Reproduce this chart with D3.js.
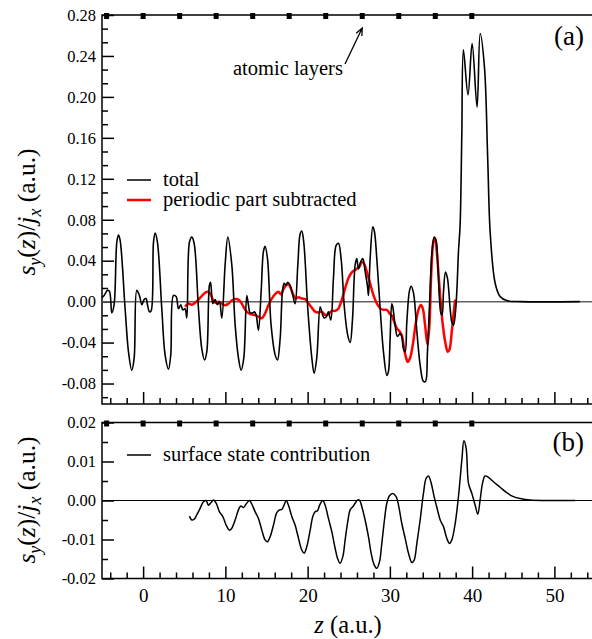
<!DOCTYPE html>
<html>
<head>
<meta charset="utf-8">
<script src="https://cdnjs.cloudflare.com/ajax/libs/d3/7.8.5/d3.min.js"></script>
<style>
body{margin:0;background:#fff}
svg text{font-family:"Liberation Serif","Times New Roman",Times,"DejaVu Serif",serif}
</style>
</head>
<body>
<div id="chart"></div>
<script>
// positions of the atomic layers (a.u.)
var layers = [-4.44, 0, 4.44, 8.88, 13.32, 17.76, 22.2, 26.64, 31.08, 35.52, 39.96];
// tick values
var ticksA = [-0.08, -0.04, 0.00, 0.04, 0.08, 0.12, 0.16, 0.20, 0.24, 0.28];
var ticksB = [-0.02, -0.01, 0.00, 0.01, 0.02];
var ticksX = [0, 10, 20, 30, 40, 50];

// panel (a): total, [z, s_y/j_x]
var total = [[-5.0,0.004],[-4.74,0.006],[-4.34,0.011],[-4.09,0.010],[-3.81,-0.011],[-3.53,-0.003],[-3.2,0.058],[-3.0,0.065],[-2.8,0.060],
  [-2.19,-0.007],[-1.78,-0.049],[-1.38,-0.067],[-1.09,-0.055],[-0.77,0.011],[-0.45,0.006],[-0.16,-0.003],[0.12,0.002],[0.36,0.003],
  [0.53,-0.003],[0.77,-0.010],[0.97,-0.009],[1.26,0.058],[1.46,0.067],[1.74,0.058],[2.27,-0.007],[2.67,-0.052],[3.08,-0.066],
  [3.36,-0.052],[3.69,0.006],[4.01,0.005],[4.3,-0.007],[4.58,-0.003],[4.82,-0.008],[5.1,-0.007],[5.31,-0.016],[5.63,0.058],
  [5.92,0.063],[6.2,0.057],[6.73,-0.007],[7.13,-0.046],[7.46,-0.057],[7.74,-0.049],[8.06,0.016],[8.2,0.019],[8.47,-0.002],
  [8.75,0.002],[9.04,-0.003],[9.28,0.000],[9.57,-0.016],[9.97,0.036],[10.3,0.063],[10.78,0.036],[11.19,-0.023],[11.59,-0.055],
  [11.91,-0.067],[12.24,-0.055],[12.6,0.006],[12.8,-0.003],[13.01,-0.011],[13.29,-0.011],[13.53,-0.010],[13.74,-0.013],[14.02,-0.028],
  [14.35,0.010],[14.63,0.049],[14.83,0.054],[15.12,0.042],[15.56,-0.023],[16.05,-0.052],[16.33,-0.057],[16.66,-0.036],[16.94,0.010],
  [17.14,0.018],[17.34,0.016],[17.59,0.019],[17.87,0.016],[18.2,0.006],[18.48,-0.002],[18.81,0.036],[19.09,0.066],[19.29,0.069],
  [19.53,0.058],[20.02,-0.007],[20.51,-0.055],[20.79,-0.070],[21.11,-0.055],[21.52,-0.005],[21.72,-0.010],[22.0,-0.016],[22.25,-0.015],
  [22.53,-0.010],[22.82,-0.018],[23.14,0.023],[23.47,0.055],[23.75,0.057],[24.07,0.042],[24.48,-0.007],[24.88,-0.033],[25.17,-0.040],
  [25.45,-0.018],[25.78,0.036],[25.98,0.042],[26.18,0.032],[26.46,0.039],[26.71,0.042],[27.0,0.029],[27.28,0.015],[27.4,0.006],
  [27.6,0.042],[27.93,0.073],[28.13,0.068],[28.41,0.042],[28.82,-0.007],[29.22,-0.049],[29.63,-0.072],[29.83,-0.068],[30.03,-0.036],
  [30.23,-0.002],[30.35,-0.005],[30.64,-0.023],[30.92,-0.034],[31.25,-0.031],[31.45,-0.034],[31.65,-0.046],[31.86,-0.049],[32.06,-0.020],
  [32.39,0.011],[32.59,0.015],[32.88,0.008],[33.28,-0.029],[33.68,-0.062],[34.08,-0.078],[34.33,-0.078],[34.57,-0.049],[34.89,0.010],
  [35.1,0.046],[35.38,0.063],[35.63,0.059],[35.83,0.036],[36.03,0.003],[36.2,-0.011],[36.35,-0.013],[36.52,0.010],[36.76,0.029],
  [37.0,0.023],[37.33,-0.007],[37.53,-0.020],[37.73,-0.023],[37.94,-0.013],[38.14,0.010],[38.34,0.049],[38.54,0.075],[38.74,0.160],
  [38.94,0.246],[39.5,0.202],[40.0,0.252],[40.6,0.190],[40.98,0.262],[41.5,0.229],[41.9,0.138],[42.2,0.067],[42.8,0.018],
  [43.4,0.005],[44.2,0.001],[46.0,0.000],[53.1,0.000]];

// panel (a): periodic part subtracted
var periodicSub = [[5.1,-0.005],[5.5,-0.002],[5.92,-0.003],[6.32,-0.001],[6.73,0.002],[7.13,0.0055],[7.54,0.0087],[7.82,0.0097],
  [8.15,0.008],[8.47,0.002],[8.75,-0.001],[9.16,0.000],[9.56,-0.002],[9.97,-0.0035],[10.37,-0.002],[10.86,0.0016],[11.39,0.0025],
  [11.79,0.0006],[12.2,-0.005],[12.6,-0.010],[13.13,-0.0124],[13.62,-0.013],[14.02,-0.0147],[14.43,-0.0163],[14.83,-0.0115],
  [15.24,-0.0033],[15.64,0.003],[16.05,0.0074],[16.45,0.0097],[16.78,0.007],[17.06,0.0123],[17.39,0.016],[17.67,0.017],[17.95,0.013],
  [18.28,0.0064],[18.56,0.003],[18.89,0.0042],[19.29,0.003],[19.7,0.0025],[20.1,-0.0017],[20.51,-0.006],[20.91,-0.0098],[21.32,-0.0105],
  [21.72,-0.0098],[22.13,-0.013],[22.53,-0.0124],[22.94,-0.009],[23.35,-0.009],[23.75,-0.0066],[24.15,0.0016],[24.56,0.013],
  [24.97,0.023],[25.37,0.0286],[25.77,0.031],[26.3,0.034],[26.58,0.039],[26.87,0.037],[27.2,0.029],[27.6,0.0178],[28.0,0.0064],
  [28.41,-0.0017],[28.82,-0.0066],[29.22,-0.008],[29.63,-0.008],[29.95,-0.0115],[30.23,-0.0137],[30.52,-0.0196],[30.84,-0.026],
  [31.17,-0.029],[31.45,-0.033],[31.73,-0.046],[31.98,-0.055],[32.18,-0.059],[32.46,-0.055],[32.79,-0.042],[33.11,-0.023],
  [33.47,-0.008],[33.76,-0.0033],[34.0,-0.0066],[34.28,-0.023],[34.57,-0.042],[34.81,-0.023],[35.02,0.026],[35.3,0.0586],
  [35.5,0.062],[35.7,0.049],[35.95,0.023],[36.2,-0.0033],[36.44,-0.023],[36.72,-0.039],[37.04,-0.049],[37.24,-0.047],
  [37.53,-0.029],[37.73,-0.013],[37.94,0.002]];

// panel (b): surface state contribution
var surface = [[5.63,-0.0040],[5.92,-0.0050],[6.2,-0.0048],[6.52,-0.0037],[6.93,-0.0020],[7.34,-0.0003],[7.66,0.0000],[7.94,-0.0012],
  [8.23,-0.0006],[8.55,0.0001],[8.88,-0.0007],[9.28,-0.0029],[9.69,-0.0041],[10.09,-0.0063],[10.5,-0.0076],[10.78,-0.0071],
  [11.19,-0.0050],[11.59,-0.0024],[11.87,-0.0014],[12.2,-0.0018],[12.52,-0.0009],[12.93,0.0000],[13.21,-0.0009],[13.62,-0.0029],
  [14.02,-0.0046],[14.43,-0.0076],[14.83,-0.0101],[15.12,-0.0106],[15.44,-0.0093],[15.85,-0.0063],[16.25,-0.0031],[16.58,-0.0024],
  [16.86,-0.0023],[17.14,-0.0012],[17.39,0.0000],[17.67,-0.0012],[18.08,-0.0041],[18.48,-0.0063],[18.89,-0.0097],[19.29,-0.0127],
  [19.58,-0.0135],[19.9,-0.0118],[20.31,-0.0076],[20.63,-0.0041],[20.91,-0.0029],[21.2,-0.0026],[21.52,-0.0009],[21.84,0.0000],
  [22.13,-0.0012],[22.53,-0.0046],[22.94,-0.0080],[23.35,-0.0123],[23.63,-0.0148],[23.95,-0.0161],[24.28,-0.0144],[24.56,-0.0101],
  [24.88,-0.0054],[25.17,-0.0024],[25.49,-0.0016],[25.78,-0.0007],[26.06,0.0001],[26.3,0.0001],[26.59,-0.0016],[26.99,-0.0050],
  [27.4,-0.0093],[27.72,-0.0135],[28.09,-0.0165],[28.41,-0.0174],[28.74,-0.0157],[29.02,-0.0110],[29.34,-0.0050],[29.63,-0.0007],
  [29.95,0.0012],[30.35,0.0018],[30.76,0.0010],[31.05,-0.0012],[31.45,-0.0059],[31.86,-0.0097],[32.26,-0.0135],[32.67,-0.0159],
  [32.95,-0.0153],[33.28,-0.0110],[33.68,-0.0050],[34.08,0.0018],[34.41,0.0057],[34.69,0.0063],[34.98,0.0048],[35.38,0.0010],
  [35.79,-0.0024],[36.12,-0.0050],[36.52,-0.0067],[36.92,-0.0097],[37.25,-0.0110],[37.53,-0.0101],[37.94,-0.0059],[38.34,0.0010],
  [38.75,0.0104],[39.0,0.0153],[39.27,0.0134],[39.56,0.0044],[39.97,0.0018],[40.37,-0.0012],[40.69,-0.0035],[40.97,0.0001],
  [41.26,0.0044],[41.58,0.0063],[41.99,0.0059],[42.59,0.0048],[43.4,0.0034],[44.21,0.0020],[45.02,0.0010],[45.83,0.0005],
  [47.05,0.0001],[49.08,0.0000],[52.52,0.0000]];

function init(){
    var w = 592, h = 639;
    var svg = d3.select("#chart").append("svg")
                .attr("width", w)
                .attr("height", h);

    // scales
    var x = d3.scaleLinear().domain([-5, 55]).range([102, 595.5]);
    var yA = d3.scaleLinear().domain([-0.10, 0.28]).range([404, 15]);
    var yB = d3.scaleLinear().domain([-0.02, 0.02]).range([578.5, 422.5]);

    var minorX = d3.range(-4, 56, 2).filter(d => d % 10 != 0);
    var minorA = d3.range(-7, 22).filter(k => k % 3 != 0).map(k => k * 0.04 / 3);
    var minorB = [-0.015, -0.005, 0.005, 0.015];

    var line = d3.line()
                .x(d => x(d[0]))
                .curve(d3.curveCatmullRom.alpha(0.5));

    //function: draws frame, ticks and layer markers of one panel
    var drawPanel = function(y, majors, minors, xLabels){
        var top = y.range()[1], bottom = y.range()[0];

        // left axis, ticks pointing inside
        var gl = svg.append("g").attr("transform", "translate(102,0)")
            .call(d3.axisLeft(y).tickValues(majors).tickSize(-12).tickSizeOuter(0).tickPadding(6)
                  .tickFormat(d => d.toFixed(2)));
        gl.select(".domain").remove();
        gl.attr("font-family", null).attr("font-size", 16.5);
        svg.append("g").attr("transform", "translate(102,0)")
            .call(d3.axisLeft(y).tickValues(minors).tickSize(-6).tickFormat(""))
            .select(".domain").remove();

        // bottom axis
        var gb = svg.append("g").attr("transform", "translate(0," + bottom + ")")
            .call(d3.axisBottom(x).tickValues(ticksX).tickSize(-12).tickSizeOuter(0).tickPadding(10)
                  .tickFormat(xLabels ? d3.format("d") : ""));
        gb.select(".domain").remove();
        gb.attr("font-family", null).attr("font-size", 19);
        svg.append("g").attr("transform", "translate(0," + bottom + ")")
            .call(d3.axisBottom(x).tickValues(minorX).tickSize(-6).tickFormat(""))
            .select(".domain").remove();

        svg.selectAll(".tick line").attr("stroke-width", 1.5);

        // frame
        svg.append("rect")
            .attr("x", x(-5)).attr("y", top)
            .attr("width", x(55) - x(-5)).attr("height", bottom - top)
            .attr("fill", "none").attr("stroke", "black").attr("stroke-width", 1.5);

        // atomic layer markers on the top axis
        svg.append("g").selectAll("rect")
            .data(layers)
            .enter()
            .append("rect")
            .attr("x", d => x(d) - 2.5)
            .attr("y", top - 2)
            .attr("width", 5)
            .attr("height", 6)
            .attr("fill", "black");
    }

    drawPanel(yA, ticksA, minorA, false);
    drawPanel(yB, ticksB, minorB, true);

    // zero lines
    svg.append("line")
        .attr("x1", x(-5)).attr("x2", x(55))
        .attr("y1", yA(0)).attr("y2", yA(0))
        .attr("stroke", "#606060").attr("stroke-width", 1.5);
    svg.append("line")
        .attr("x1", x(-5)).attr("x2", x(55))
        .attr("y1", yB(0)).attr("y2", yB(0))
        .attr("stroke", "black").attr("stroke-width", 1);

    // curves
    svg.append("path")
        .attr("d", line.y(d => yA(d[1]))(periodicSub))
        .attr("fill", "none").attr("stroke", "#ff0000").attr("stroke-width", 2.5);
    svg.append("path")
        .attr("d", line.y(d => yA(d[1]))(total))
        .attr("fill", "none").attr("stroke", "black").attr("stroke-width", 1.6);
    svg.append("path")
        .attr("d", line.y(d => yB(d[1]))(surface))
        .attr("fill", "none").attr("stroke", "black").attr("stroke-width", 1.5);

    // legends
    var legend = [
        {y: 180, color: "black", width: 1.5, text: "total"},
        {y: 200, color: "#ff0000", width: 2.5, text: "periodic part subtracted"},
        {y: 455, color: "black", width: 1.5, text: "surface state contribution"}
    ];
    legend.forEach(l => {
        svg.append("line")
            .attr("x1", 127).attr("x2", 151)
            .attr("y1", l.y).attr("y2", l.y)
            .attr("stroke", l.color).attr("stroke-width", l.width);
        svg.append("text")
            .attr("x", 163).attr("y", l.y + 6)
            .attr("font-size", 20.5)
            .text(l.text);
    });

    // panel labels
    svg.append("text").attr("x", 584).attr("y", 45).attr("text-anchor", "end")
        .attr("font-size", 27).text("(a)");
    svg.append("text").attr("x", 584).attr("y", 451).attr("text-anchor", "end")
        .attr("font-size", 27).text("(b)");

    // atomic layers annotation with arrow
    svg.append("text").attr("x", 233).attr("y", 75)
        .attr("font-size", 20.5).text("atomic layers");
    var ax1 = 345, ay1 = 64, ax2 = x(layers[7]), ay2 = 28;
    var ang = Math.atan2(ay2 - ay1, ax2 - ax1);
    svg.append("path")
        .attr("d", "M" + ax1 + "," + ay1 + "L" + ax2 + "," + ay2 +
              "M" + (ax2 - 8 * Math.cos(ang - 0.4)) + "," + (ay2 - 8 * Math.sin(ang - 0.4)) +
              "L" + ax2 + "," + ay2 +
              "L" + (ax2 - 8 * Math.cos(ang + 0.4)) + "," + (ay2 - 8 * Math.sin(ang + 0.4)))
        .attr("fill", "none").attr("stroke", "black").attr("stroke-width", 1.3);

    // y axis titles
    var yTitle = function(cy){
        var t = svg.append("text")
            .attr("transform", "translate(35," + cy + ") rotate(-90)")
            .attr("text-anchor", "middle")
            .attr("font-size", 25.5);
        t.append("tspan").attr("font-style", "italic").text("s");
        t.append("tspan").attr("font-style", "italic").attr("font-size", 18).attr("dy", 6).text("y");
        t.append("tspan").attr("dy", -6).text("(");
        t.append("tspan").attr("font-style", "italic").text("z");
        t.append("tspan").text(")/");
        t.append("tspan").attr("font-style", "italic").text("j");
        t.append("tspan").attr("font-style", "italic").attr("font-size", 18).attr("dy", 6).text("x");
        t.append("tspan").attr("dy", -6).text(" (a.u.)");
    }
    yTitle(212);
    yTitle(500);

    // x axis title
    var xt = svg.append("text")
        .attr("x", 348).attr("y", 633)
        .attr("text-anchor", "middle")
        .attr("font-size", 24.5);
    xt.append("tspan").attr("font-style", "italic").text("z");
    xt.append("tspan").text(" (a.u.)");
}
window.onload = init;
</script>
</body>
</html>
